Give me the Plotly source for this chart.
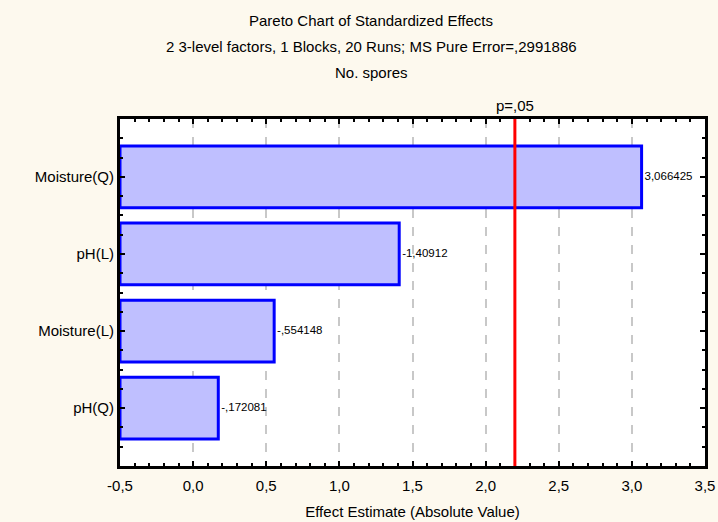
import plotly.graph_objects as go

categories = ["Moisture(Q)", "pH(L)", "Moisture(L)", "pH(Q)"]
effects = [3.066425, -1.40912, -0.554148, -0.172081]
effect_labels = ["3,066425", "-1,40912", "-,554148", "-,172081"]
p_crit = 2.2
x_ticks = [-0.5, 0.0, 0.5, 1.0, 1.5, 2.0, 2.5, 3.0, 3.5]
x_tick_labels = ["-0,5", "0,0", "0,5", "1,0", "1,5", "2,0", "2,5", "3,0", "3,5"]

xmin, xmax = -0.5, 3.5
FONT = "Liberation Sans"
BG = "#FDF9EE"

W, H = 718, 522
ML, MR, MT, MB = 120, 13, 119, 56
PW, PH = W - ML - MR, H - MT - MB

abs_eff = [abs(v) for v in effects]
ypos = list(range(len(categories)))

fig = go.Figure()
fig.add_trace(go.Bar(
    y=ypos, x=[a - xmin for a in abs_eff], base=xmin, orientation="h",
    width=0.8,
    marker=dict(color="#BFBFFF", line=dict(color="#0000FF", width=3)),
    hoverinfo="skip", showlegend=False,
))
fig.add_trace(go.Scatter(
    y=ypos, x=[a + 0.02 for a in abs_eff], mode="text",
    text=effect_labels, textposition="middle right",
    textfont=dict(family=FONT, size=11.5, color="black"),
    showlegend=False, hoverinfo="skip", cliponaxis=False,
))

fig.add_shape(type="line", x0=p_crit, x1=p_crit, y0=0, y1=1, xref="x", yref="paper",
              line=dict(color="#FF0000", width=3), layer="above")
fig.add_annotation(x=p_crit, y=1, xref="x", yref="paper", yshift=3, yanchor="bottom",
                   text="p=,05", showarrow=False,
                   font=dict(family=FONT, size=15, color="black"))

titles = ["Pareto Chart of Standardized Effects",
          "2 3-level factors, 1 Blocks, 20 Runs; MS Pure Error=,2991886",
          "No. spores"]
for i, t in enumerate(titles):
    py = 20 + 26.5 * i
    fig.add_annotation(x=(371 - ML) / PW, y=(H - MB - py) / PH, xref="paper", yref="paper",
                       text=t, showarrow=False, xanchor="center", yanchor="middle",
                       font=dict(family=FONT, size=15, color="black"))

fig.update_xaxes(
    range=[xmin, xmax], tickvals=x_ticks, ticktext=x_tick_labels, automargin=False,
    showgrid=True, gridcolor="#C8C8C8", griddash="dash", gridwidth=2,
    zeroline=False, showline=True, linecolor="black", linewidth=3, mirror="allticks",
    ticks="inside", ticklen=5, tickwidth=2, tickcolor="black", ticklabelstandoff=4,
    minor=dict(dtick=0.1, ticks="inside", ticklen=3, tickwidth=2, tickcolor="black", showgrid=False),
    tickfont=dict(family=FONT, size=15, color="black"),
    title=dict(text="Effect Estimate (Absolute Value)", font=dict(family=FONT, size=15, color="black"),
               standoff=14),
)
fig.update_yaxes(
    range=[3.75, -0.75], tickvals=ypos, ticktext=categories, automargin=False,
    showgrid=False, zeroline=False, showline=True, linecolor="black", linewidth=3, mirror="allticks",
    ticks="inside", ticklen=5, tickwidth=2, tickcolor="black",
    minor=dict(tick0=-0.75, dtick=0.25, ticks="inside", ticklen=3, tickwidth=2, tickcolor="black", showgrid=False),
    tickfont=dict(family=FONT, size=15, color="black"),
)

fig.update_layout(
    width=W, height=H,
    margin=dict(l=ML, r=MR, t=MT, b=MB),
    paper_bgcolor=BG, plot_bgcolor="white",
    bargap=0.2,
)

fig.write_html("out.html")
